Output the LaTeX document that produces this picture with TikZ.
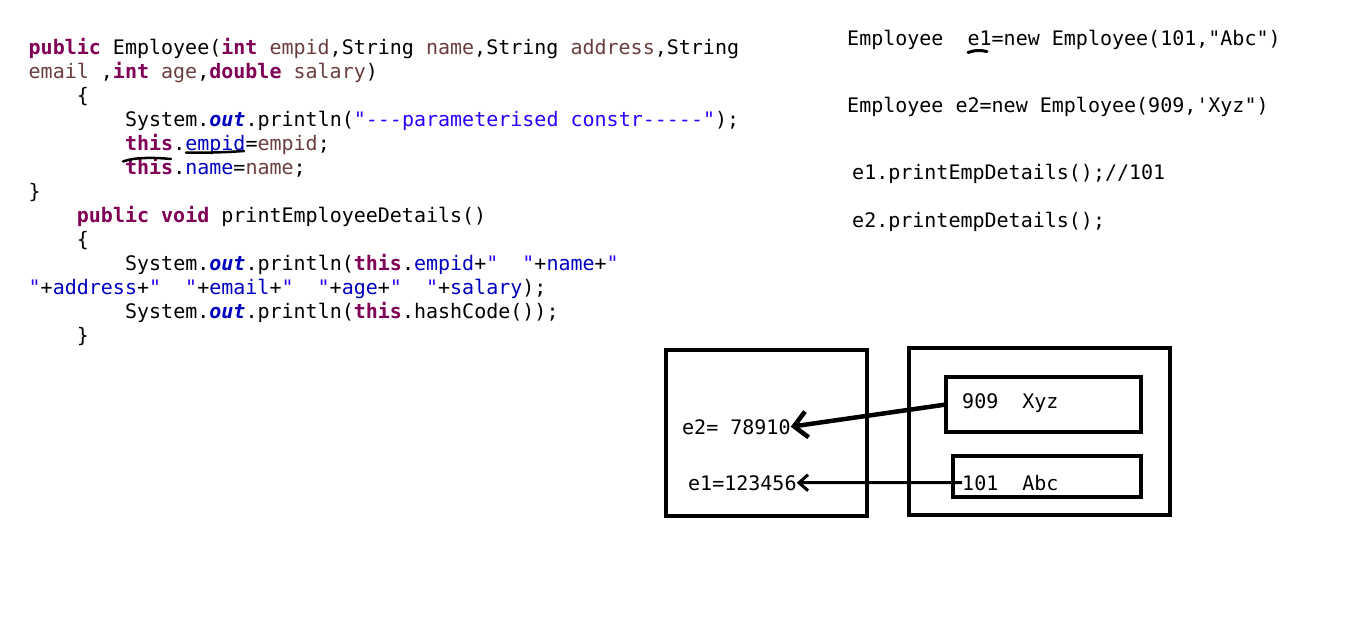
\documentclass[tikz,border=0pt]{standalone}
\usepackage{fontspec}
\setmonofont{DejaVu Sans Mono}
\usepackage{tikz}
\usetikzlibrary{arrows,arrows.meta,shapes}
\definecolor{kwcol}{HTML}{7F0055}
\definecolor{prmcol}{HTML}{6A3E3E}
\definecolor{fldcol}{HTML}{0000C0}
\definecolor{strcol}{HTML}{2A00FF}
\newcommand{\kw}[1]{\textcolor{kwcol}{\bfseries #1}}
\newcommand{\prm}[1]{\textcolor{prmcol}{#1}}
\newcommand{\fld}[1]{\textcolor{fldcol}{#1}}
\newcommand{\fldout}[1]{\textcolor{fldcol}{\bfseries\itshape #1}}
\newcommand{\jstr}[1]{\textcolor{strcol}{#1}}
\tikzset{code/.style={anchor=base west,inner sep=0pt,font=\ttfamily\fontsize{20bp}{24bp}\selectfont},
membox/.style={draw,line width=4.6bp,inner sep=0pt,outer sep=0pt}}

\begin{document}
\begin{tikzpicture}
\useasboundingbox (0,0) rectangle (1360bp,-623bp);

\node (sig1) at (28.5bp,-54bp)[code] {\kw{public} Employee(\kw{int} \prm{empid},String \prm{name},String \prm{address},String};
\node (sig2) at (28.5bp,-78bp)[code] {\prm{email} ,\kw{int} \prm{age},\kw{double} \prm{salary})};
\node (open1) at (76.7bp,-102bp)[code] {\{};
\node (msg) at (124.9bp,-126bp)[code] {System.\fldout{out}.println(\jstr{"---parameterised constr-----"});};
\node (setid) at (124.9bp,-150bp)[code] {\kw{this}.\fld{empid}=\prm{empid};};
\node (setname) at (124.9bp,-174bp)[code] {\kw{this}.\fld{name}=\prm{name};};
\node (close1) at (28.5bp,-198bp)[code] {\}};
\node (sig3) at (76.7bp,-222bp)[code] {\kw{public} \kw{void} printEmployeeDetails()};
\node (open2) at (76.7bp,-246bp)[code] {\{};
\node (print1) at (124.9bp,-270bp)[code] {System.\fldout{out}.println(\kw{this}.\fld{empid}+\jstr{"\ \ "}+\fld{name}+\jstr{"}};
\node (print2) at (28.5bp,-294bp)[code] {\jstr{"}+\fld{address}+\jstr{"\ \ "}+\fld{email}+\jstr{"\ \ "}+\fld{age}+\jstr{"\ \ "}+\fld{salary});};
\node (hash) at (124.9bp,-318bp)[code] {System.\fldout{out}.println(\kw{this}.hashCode());};
\node (close2) at (76.7bp,-342bp)[code] {\}};

\node (decl1) at (847bp,-45bp)[code] {Employee\ \ e1=new Employee(101,"Abc")};
\node (decl2) at (847bp,-112bp)[code] {Employee e2=new Employee(909,'Xyz")};
\node (call1) at (852bp,-179bp)[code] {e1.printEmpDetails();//101};
\node (call2) at (852bp,-227bp)[code] {e2.printempDetails();};

\node (stack) at (766.5bp,-433bp)[membox,minimum width=201bp,minimum height=166bp] {};
\node (heap) at (1039.5bp,-431.5bp)[membox,minimum width=261bp,minimum height=167bp] {};
\node (obj2) at (1043.5bp,-404.5bp)[membox,minimum width=195bp,minimum height=55bp] {};
\node (obj1) at (1047bp,-476.5bp)[membox,minimum width=188bp,minimum height=41bp] {};

\node (ref2) at (682bp,-434bp)[code] {e2= 78910};
\node (ref1) at (688bp,-490bp)[code] {e1=123456};
\node (val2) at (962bp,-408bp)[code] {909\ \ Xyz};
\node (val1) at (962bp,-490bp)[code] {101\ \ Abc};

\draw [-{Straight Barb[length=13bp,width=26bp]},line width=4.5bp] (obj2.west) -- (ref2.east);
\draw [-{Straight Barb[length=9bp,width=16bp]},line width=3bp] (val1.west) -- (ref1.east);

\draw [line width=2.5bp,line cap=round] (186bp,-152.5bp) .. controls (210bp,-153bp) and (230bp,-152bp) .. (244bp,-151bp);
\draw [line width=2.5bp,line cap=round] (123bp,-161.5bp) .. controls (135bp,-157bp) and (155bp,-157.5bp) .. (171bp,-159bp);
\draw [line width=3bp,line cap=round] (968bp,-52.5bp) .. controls (975bp,-50bp) and (980bp,-50bp) .. (987bp,-51.5bp);
\end{tikzpicture}
\end{document}
